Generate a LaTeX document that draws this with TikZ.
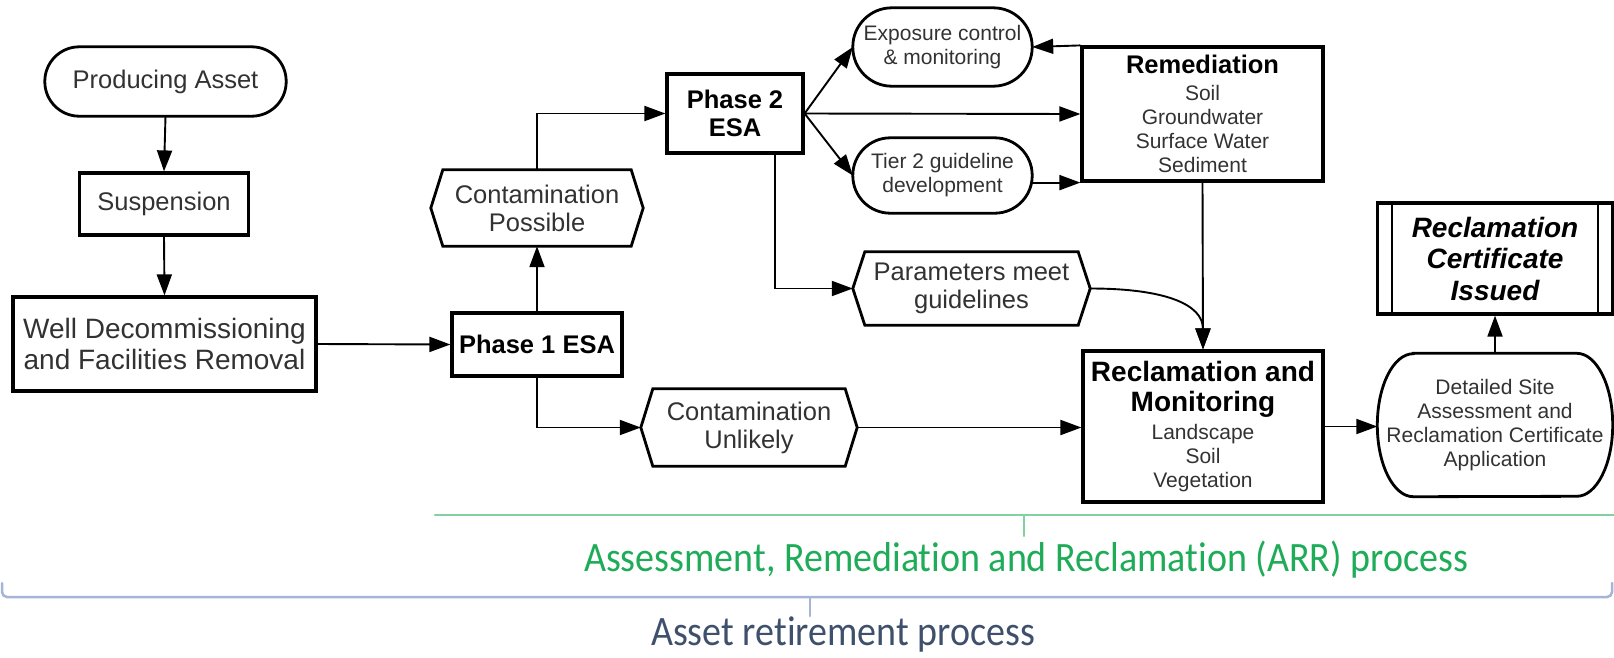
\documentclass[tikz,border=0pt]{standalone}
\usepackage{fontspec}
\usepackage{graphicx}
\setmainfont{Liberation Sans}
\newfontfamily\calib[Ligatures=NoCommon]{Carlito}
\usetikzlibrary{arrows.meta,calc}
\definecolor{txt}{RGB}{50,50,50}
\definecolor{arrgreen}{RGB}{30,172,88}
\definecolor{arrline}{RGB}{130,210,160}
\definecolor{retblue}{RGB}{62,80,108}
\definecolor{retline}{RGB}{165,180,215}
\newcommand\fA{\fontsize{25.5}{28}\selectfont}
\newcommand\fB{\fontsize{28}{31.5}\selectfont}
\newcommand\fC{\fontsize{21}{24}\selectfont}
\begin{document}
\begin{tikzpicture}[x=1pt,y=-1pt,
  box/.style={draw, line width=3.2pt, inner sep=0pt, align=center, text=txt},
  ghost/.style={inner sep=0pt, align=center, text=txt},
  conn/.style={line width=1.9pt, -{Triangle[length=21pt,width=15pt]}},
  shapeline/.style={line width=2.8pt, line join=miter},
  bigline/.style={line width=2.5pt, line cap=round},
]
\useasboundingbox (0,0) rectangle (1614,657);

% nodes
\node[ghost, minimum width=241pt, minimum height=69pt, font=\fA] (pa) at (165.5,81.5) {Producing Asset};
\node[box, minimum width=169pt, minimum height=62pt, font=\fA] (susp) at (164,204) {Suspension};
\node[box, minimum width=303pt, minimum height=94pt, font=\fB] (wd) at (164.5,344) {Well Decommissioning\\and Facilities Removal};
\node[box, minimum width=170pt, minimum height=63pt, font=\fA\bfseries, text=black] (p1) at (537,344.5) {Phase 1 ESA};
\node[ghost, minimum width=212pt, minimum height=76pt, font=\fA] (cp) at (537,208) {Contamination\\Possible};
\node[box, minimum width=136pt, minimum height=79pt, font=\fA\bfseries, text=black] (p2) at (735,113.5) {Phase 2\\ESA};
\node[ghost, minimum width=216pt, minimum height=77pt, font=\fA] (cu) at (749,427.5) {Contamination\\Unlikely};
\node[ghost, minimum width=179pt, minimum height=78pt, font=\fC] (exp) at (942.5,47) {Exposure control\\\& monitoring};
\node[ghost, minimum width=179pt, minimum height=75pt, font=\fC] (tier) at (942.5,175.5) {Tier 2 guideline\\development};
\node[box, minimum width=241pt, minimum height=134pt, font=\fC] (rem) at (1202.5,114)
  {{\fA\bfseries\color{black}Remediation}\\[3pt]Soil\\Groundwater\\Surface Water\\Sediment};
\node[ghost, minimum width=237pt, minimum height=73pt, font=\fA] (pmg) at (971.5,288.5) {Parameters meet\\guidelines};
\node[box, minimum width=240pt, minimum height=151pt, font=\fC] (rec) at (1203,426.5)
  {{\fB\bfseries\color{black}Reclamation and}\\[6pt]{\fB\bfseries\color{black}Monitoring}\\[4pt]Landscape\\Soil\\Vegetation};
\node[ghost, minimum width=235pt, minimum height=143pt, font=\fC] (det) at (1495,425)
  {Detailed Site\\Assessment and\\Reclamation Certificate\\Application};
\node[box, minimum width=235pt, minimum height=111pt, font=\fB\bfseries\itshape, text=black] (rci) at (1495,258.5)
  {Reclamation\\Certificate\\Issued};

% shapes drawn round the plain nodes
\draw[shapeline, rounded corners=34.5pt] (pa.south west) rectangle (pa.north east);
\draw[shapeline, rounded corners=39pt] (exp.south west) rectangle (exp.north east);
\draw[shapeline, rounded corners=37.5pt] (tier.south west) rectangle (tier.north east);
\foreach \n in {cp,cu,pmg}
  \draw[shapeline] (\n.west) -- ([xshift=12pt]\n.north west) -- ([xshift=-12pt]\n.north east)
     -- (\n.east) -- ([xshift=-12pt]\n.south east) -- ([xshift=12pt]\n.south west) -- cycle;
\draw[shapeline] ([xshift=36pt]det.north west) -- ([xshift=-36pt]det.north east)
   arc[start angle=90, end angle=-90, x radius=36pt, y radius=71.5pt]
   -- ([xshift=36pt]det.south west)
   arc[start angle=270, end angle=90, x radius=36pt, y radius=71.5pt] -- cycle;
\draw[line width=2.6pt] ([xshift=16pt]rci.north west) -- ([xshift=16pt]rci.south west);
\draw[line width=2.6pt] ([xshift=-16pt]rci.north east) -- ([xshift=-16pt]rci.south east);

% connectors
\draw[conn] (pa.south) -- (susp.north);
\draw[conn] (susp.south) -- (wd.north);
\draw[conn] (wd.east) -- (p1.west);
\draw[conn] (p1.north) -- (cp.south);
\draw[conn] (cp.north) |- (p2.west);
\draw[conn] (p1.south) |- (cu.west);
\draw[conn] (p2.east) -- (exp.west);
\draw[conn] (p2.east) -- (rem.west);
\draw[conn] (p2.east) -- (tier.west);
\draw[conn] (rem.north west) -- (exp.east);
\draw[conn] (tier.east |- rem.south west) -- (rem.south west);
\coordinate (p2s) at ([xshift=40pt]p2.south);
\draw[conn] (p2s) |- (pmg.west);
\draw[conn] (pmg.east) .. controls +(75,0) and +(0,-45) .. (rec.north);
\draw[conn] (rem.south) -- (rec.north);
\draw[conn] (cu.east) -- (cu.east -| rec.west);
\draw[conn] (rec.east) -- (rec.east -| det.west);
\draw[conn] (det.north) -- (rci.south);

% brackets
\draw[bigline, arrline] (435,515) -- (1614,515);
\draw[bigline, arrline] (1024,515) -- (1024,536);
\draw[bigline, retline, rounded corners=5pt] (2,583) -- (2,597) -- (1612,597) -- (1612,583);
\draw[bigline, retline] (810,597) -- (810,616);
\node[anchor=base, text=arrgreen, font=\calib\fontsize{38}{40}\selectfont] (arr) at (1026,571)
  {\scalebox{1}[1.1]{Assessment, Remediation and Reclamation (ARR) process}};
\node[anchor=base, text=retblue, font=\calib\fontsize{38}{40}\selectfont] (ret) at (843,645)
  {\scalebox{1}[1.1]{Asset retirement process}};
\end{tikzpicture}
\end{document}
